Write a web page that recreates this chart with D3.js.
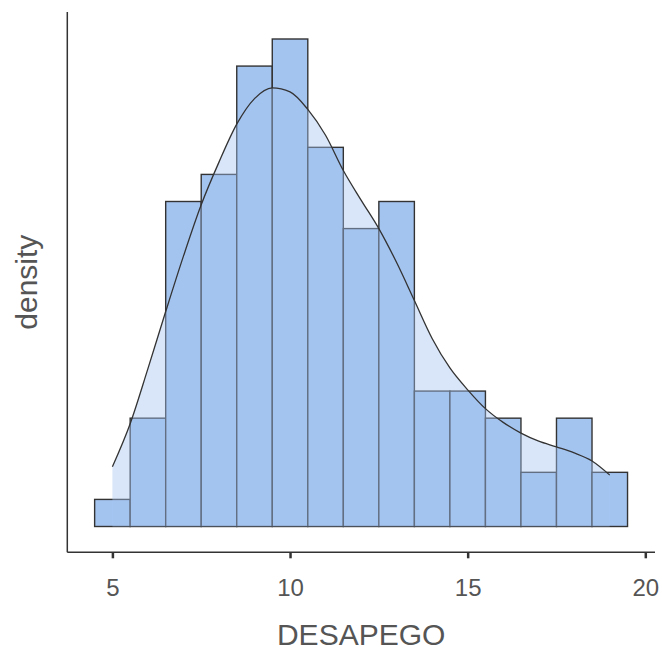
<!DOCTYPE html>
<html>
<head>
<meta charset="utf-8">
<script src="https://cdn.jsdelivr.net/npm/d3@7"></script>
<style>
  html, body { margin: 0; padding: 0; background: #ffffff; }
  svg { display: block; }
</style>
</head>
<body>
<svg id="chart" width="662" height="655"></svg>
<script>
// ---- data ----
const binStarts = [4.5, 5.5, 6.5, 7.5, 8.5, 9.5, 10.5, 11.5, 12.5, 13.5, 14.5, 15.5, 16.5, 17.5, 18.5];
const binWidth = 1;
const binCounts = [1, 4, 12, 13, 17, 18, 14, 11, 12, 5, 5, 4, 2, 4, 2];
const densityX = [5, 5.5, 6, 6.5, 7, 7.5, 8, 8.5, 9, 9.5, 10, 10.5, 11, 11.5, 12, 12.5, 13, 13.5, 14, 14.5, 15, 15.5, 16, 16.5, 17, 17.5, 18, 18.5, 19];
const densityY = [0.0178, 0.0306, 0.0470, 0.0640, 0.0805, 0.0958, 0.1085, 0.1198, 0.1274, 0.1306, 0.1294, 0.1242, 0.1165, 0.1060, 0.0972, 0.0887, 0.0786, 0.0673, 0.0560, 0.0472, 0.0407, 0.0351, 0.0310, 0.0278, 0.0254, 0.0237, 0.0219, 0.0195, 0.0153];
const xTicks = [5, 10, 15, 20];
const xTitle = "DESAPEGO";
const yTitle = "density";

// ---- layout ----
const panel = { left: 67.3, right: 655, top: 12, bottom: 552.3 };
const barFill = "rgb(164,196,240)";
const ink = "#333333";
const textCol = "#555555";

const total = d3.sum(binCounts);
const bins = binStarts.map((s, i) => ({ x0: s, x1: s + binWidth, d: binCounts[i] / total }));
const maxD = d3.max(bins, b => b.d);

const x = d3.scaleLinear().domain([5, 20]).range([112.4, 645.3]);
const y = d3.scaleLinear().domain([0, maxD]).range([526.5, 39]);

const svg = d3.select("#chart");

// bars
svg.append("g").selectAll("rect").data(bins).join("rect")
  .attr("x", b => x(b.x0))
  .attr("y", b => y(b.d))
  .attr("width", b => x(b.x1) - x(b.x0))
  .attr("height", b => y(0) - y(b.d))
  .attr("fill", barFill)
  .attr("stroke", ink)
  .attr("stroke-width", 1.4);

// density
const dens = densityX.map((v, i) => ({ v, d: densityY[i] }));
const area = d3.area().x(p => x(p.v)).y0(y(0)).y1(p => y(p.d)).curve(d3.curveMonotoneX);
const line = d3.line().x(p => x(p.v)).y(p => y(p.d)).curve(d3.curveMonotoneX);
svg.append("path").datum(dens).attr("d", area)
  .attr("fill", barFill).attr("fill-opacity", 0.42).attr("stroke", "none");
svg.append("path").datum(dens).attr("d", line)
  .attr("fill", "none").attr("stroke", ink).attr("stroke-width", 1.3);

// axes
svg.append("line")
  .attr("x1", panel.left).attr("x2", panel.right)
  .attr("y1", panel.bottom).attr("y2", panel.bottom)
  .attr("stroke", ink).attr("stroke-width", 1.5);
svg.append("line")
  .attr("x1", panel.left).attr("x2", panel.left)
  .attr("y1", panel.top).attr("y2", panel.bottom)
  .attr("stroke", ink).attr("stroke-width", 1.5);

const xAxis = d3.axisBottom(x).tickValues(xTicks).tickSize(6).tickSizeOuter(0).tickPadding(10).tickFormat(d3.format("d"));
const gx = svg.append("g").attr("transform", `translate(0,${panel.bottom})`).call(xAxis);
gx.select(".domain").remove();
gx.selectAll(".tick line").attr("stroke", ink).attr("stroke-width", 2.5);
gx.selectAll(".tick text")
  .attr("fill", textCol)
  .attr("font-family", "'Liberation Sans', Arial, sans-serif")
  .attr("font-size", 24)
  .attr("dy", null)
  .attr("y", 43.5);

// titles
svg.append("text")
  .attr("x", (panel.left + panel.right) / 2)
  .attr("y", 645)
  .attr("text-anchor", "middle")
  .attr("fill", textCol)
  .attr("font-family", "'Liberation Sans', Arial, sans-serif")
  .attr("font-size", 30)
  .text(xTitle);

svg.append("text")
  .attr("transform", `translate(37,${(panel.top + panel.bottom) / 2}) rotate(-90)`)
  .attr("text-anchor", "middle")
  .attr("fill", textCol)
  .attr("font-family", "'Liberation Sans', Arial, sans-serif")
  .attr("font-size", 30)
  .text(yTitle);
</script>
</body>
</html>
